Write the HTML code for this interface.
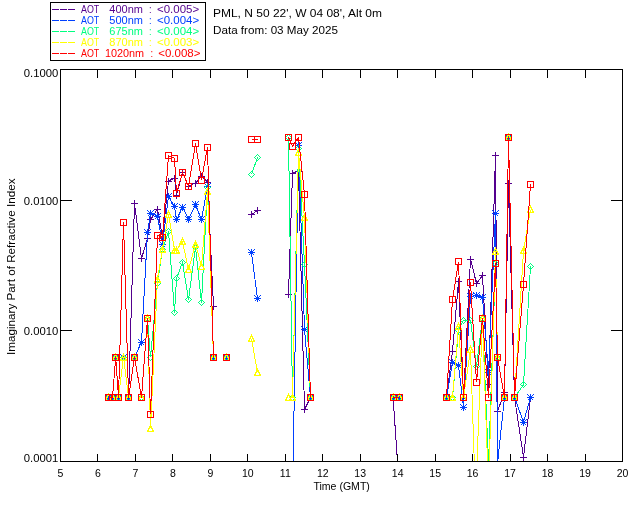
<!DOCTYPE html>
<html><head><meta charset="utf-8"><title>Imaginary Part of Refractive Index</title>
<style>
html,body{margin:0;padding:0;background:#fff;}
svg{display:block;font-family:"Liberation Sans",sans-serif;font-size:10.5px;fill:#000;}
.d path,.d polyline,.a path,.a rect,.l path,.l rect{fill:none;stroke-width:1;shape-rendering:crispEdges;}
.lg{font-size:11px;}
</style></head><body>
<svg width="640" height="512" viewBox="0 0 640 512">
<rect width="640" height="512" fill="#fff"/>
<defs><clipPath id="c"><rect x="60.5" y="69.5" width="562.0" height="392.0"/></clipPath></defs>
<g class="d" clip-path="url(#c)">
<polyline points="108.5,397.5 112.5,397.5 115.7,357.4 118.5,397.5 123.5,357.4 128.6,397.5 134.5,203.5 141.5,258.5 147.5,238.5 150.5,219.8 157.5,209.0 162.5,237.2 168.5,181.0 174.5,178.0 176.5,195.0 182.5,172.5 188.5,186.3 195.5,183.0 201.5,176.5 207.5,182.0 213.5,306.4" stroke="#54008e"/>
<path d="M105.0 397.5H112.0M108.5 394.0V401.0" stroke="#54008e"/>
<path d="M109.0 397.5H116.0M112.5 394.0V401.0" stroke="#54008e"/>
<path d="M112.0 357.5H119.0M115.5 354.0V361.0" stroke="#54008e"/>
<path d="M115.0 397.5H122.0M118.5 394.0V401.0" stroke="#54008e"/>
<path d="M120.0 357.5H127.0M123.5 354.0V361.0" stroke="#54008e"/>
<path d="M125.0 397.5H132.0M128.5 394.0V401.0" stroke="#54008e"/>
<path d="M131.0 203.5H138.0M134.5 200.0V207.0" stroke="#54008e"/>
<path d="M138.0 258.5H145.0M141.5 255.0V262.0" stroke="#54008e"/>
<path d="M144.0 238.5H151.0M147.5 235.0V242.0" stroke="#54008e"/>
<path d="M147.0 219.5H154.0M150.5 216.0V223.0" stroke="#54008e"/>
<path d="M154.0 209.5H161.0M157.5 206.0V213.0" stroke="#54008e"/>
<path d="M159.0 237.5H166.0M162.5 234.0V241.0" stroke="#54008e"/>
<path d="M165.0 181.5H172.0M168.5 178.0V185.0" stroke="#54008e"/>
<path d="M171.0 178.5H178.0M174.5 175.0V182.0" stroke="#54008e"/>
<path d="M173.0 195.5H180.0M176.5 192.0V199.0" stroke="#54008e"/>
<path d="M179.0 172.5H186.0M182.5 169.0V176.0" stroke="#54008e"/>
<path d="M185.0 186.5H192.0M188.5 183.0V190.0" stroke="#54008e"/>
<path d="M192.0 183.5H199.0M195.5 180.0V187.0" stroke="#54008e"/>
<path d="M198.0 176.5H205.0M201.5 173.0V180.0" stroke="#54008e"/>
<path d="M204.0 182.5H211.0M207.5 179.0V186.0" stroke="#54008e"/>
<path d="M210.0 306.5H217.0M213.5 303.0V310.0" stroke="#54008e"/>
<path d="M223.0 357.5H230.0M226.5 354.0V361.0" stroke="#54008e"/>
<polyline points="251.5,214.5 257.5,210.4" stroke="#54008e"/>
<path d="M248.0 214.5H255.0M251.5 211.0V218.0" stroke="#54008e"/>
<path d="M254.0 210.5H261.0M257.5 207.0V214.0" stroke="#54008e"/>
<polyline points="288.5,294.6 292.5,173.1 298.5,171.3 304.5,409.6 310.5,397.5" stroke="#54008e"/>
<path d="M285.0 294.5H292.0M288.5 291.0V298.0" stroke="#54008e"/>
<path d="M289.0 173.5H296.0M292.5 170.0V177.0" stroke="#54008e"/>
<path d="M295.0 171.5H302.0M298.5 168.0V175.0" stroke="#54008e"/>
<path d="M301.0 409.5H308.0M304.5 406.0V413.0" stroke="#54008e"/>
<path d="M307.0 397.5H314.0M310.5 394.0V401.0" stroke="#54008e"/>
<polyline points="393.1,397.5 399.0,484" stroke="#54008e"/>
<path d="M390.0 397.5H397.0M393.5 394.0V401.0" stroke="#54008e"/>
<polyline points="446.5,397.5 452.5,351.3 458.5,281.6 463.5,397.5 470.5,259.1 476.5,283.5 482.5,275.4 488.5,384.8 495.5,155.0 497.5,411.0 504.5,392.8 508.5,183.5 514.5,397.5 523.5,457.0 530.5,397.5" stroke="#54008e"/>
<path d="M443.0 397.5H450.0M446.5 394.0V401.0" stroke="#54008e"/>
<path d="M449.0 351.5H456.0M452.5 348.0V355.0" stroke="#54008e"/>
<path d="M455.0 281.5H462.0M458.5 278.0V285.0" stroke="#54008e"/>
<path d="M460.0 397.5H467.0M463.5 394.0V401.0" stroke="#54008e"/>
<path d="M467.0 259.5H474.0M470.5 256.0V263.0" stroke="#54008e"/>
<path d="M473.0 283.5H480.0M476.5 280.0V287.0" stroke="#54008e"/>
<path d="M479.0 275.5H486.0M482.5 272.0V279.0" stroke="#54008e"/>
<path d="M485.0 384.5H492.0M488.5 381.0V388.0" stroke="#54008e"/>
<path d="M492.0 155.5H499.0M495.5 152.0V159.0" stroke="#54008e"/>
<path d="M494.0 411.5H501.0M497.5 408.0V415.0" stroke="#54008e"/>
<path d="M501.0 392.5H508.0M504.5 389.0V396.0" stroke="#54008e"/>
<path d="M505.0 183.5H512.0M508.5 180.0V187.0" stroke="#54008e"/>
<path d="M511.0 397.5H518.0M514.5 394.0V401.0" stroke="#54008e"/>
<path d="M520.0 457.5H527.0M523.5 454.0V461.0" stroke="#54008e"/>
<path d="M527.0 397.5H534.0M530.5 394.0V401.0" stroke="#54008e"/>
<polyline points="108.5,397.5 112.5,397.5 115.7,357.4 118.5,397.5 123.5,357.4 128.6,397.5 134.5,357.4 141.5,342.0 147.5,232.3 150.5,213.3 157.5,216.0 162.5,244.0 168.5,196.6 174.5,206.6 176.5,219.8 182.5,207.3 188.5,219.1 195.5,204.8 201.5,219.8 207.5,186.5 213.5,357.5" stroke="#0040ff"/>
<path d="M105.0 397.5H112.0M108.5 394.0V401.0M105.5 394.5L111.5 400.5M105.5 400.5L111.5 394.5" stroke="#0040ff"/>
<path d="M109.0 397.5H116.0M112.5 394.0V401.0M109.5 394.5L115.5 400.5M109.5 400.5L115.5 394.5" stroke="#0040ff"/>
<path d="M112.0 357.5H119.0M115.5 354.0V361.0M112.5 354.5L118.5 360.5M112.5 360.5L118.5 354.5" stroke="#0040ff"/>
<path d="M115.0 397.5H122.0M118.5 394.0V401.0M115.5 394.5L121.5 400.5M115.5 400.5L121.5 394.5" stroke="#0040ff"/>
<path d="M120.0 357.5H127.0M123.5 354.0V361.0M120.5 354.5L126.5 360.5M120.5 360.5L126.5 354.5" stroke="#0040ff"/>
<path d="M125.0 397.5H132.0M128.5 394.0V401.0M125.5 394.5L131.5 400.5M125.5 400.5L131.5 394.5" stroke="#0040ff"/>
<path d="M131.0 357.5H138.0M134.5 354.0V361.0M131.5 354.5L137.5 360.5M131.5 360.5L137.5 354.5" stroke="#0040ff"/>
<path d="M138.0 342.5H145.0M141.5 339.0V346.0M138.5 339.5L144.5 345.5M138.5 345.5L144.5 339.5" stroke="#0040ff"/>
<path d="M144.0 232.5H151.0M147.5 229.0V236.0M144.5 229.5L150.5 235.5M144.5 235.5L150.5 229.5" stroke="#0040ff"/>
<path d="M147.0 213.5H154.0M150.5 210.0V217.0M147.5 210.5L153.5 216.5M147.5 216.5L153.5 210.5" stroke="#0040ff"/>
<path d="M154.0 216.5H161.0M157.5 213.0V220.0M154.5 213.5L160.5 219.5M154.5 219.5L160.5 213.5" stroke="#0040ff"/>
<path d="M159.0 244.5H166.0M162.5 241.0V248.0M159.5 241.5L165.5 247.5M159.5 247.5L165.5 241.5" stroke="#0040ff"/>
<path d="M165.0 196.5H172.0M168.5 193.0V200.0M165.5 193.5L171.5 199.5M165.5 199.5L171.5 193.5" stroke="#0040ff"/>
<path d="M171.0 206.5H178.0M174.5 203.0V210.0M171.5 203.5L177.5 209.5M171.5 209.5L177.5 203.5" stroke="#0040ff"/>
<path d="M173.0 219.5H180.0M176.5 216.0V223.0M173.5 216.5L179.5 222.5M173.5 222.5L179.5 216.5" stroke="#0040ff"/>
<path d="M179.0 207.5H186.0M182.5 204.0V211.0M179.5 204.5L185.5 210.5M179.5 210.5L185.5 204.5" stroke="#0040ff"/>
<path d="M185.0 219.5H192.0M188.5 216.0V223.0M185.5 216.5L191.5 222.5M185.5 222.5L191.5 216.5" stroke="#0040ff"/>
<path d="M192.0 204.5H199.0M195.5 201.0V208.0M192.5 201.5L198.5 207.5M192.5 207.5L198.5 201.5" stroke="#0040ff"/>
<path d="M198.0 219.5H205.0M201.5 216.0V223.0M198.5 216.5L204.5 222.5M198.5 222.5L204.5 216.5" stroke="#0040ff"/>
<path d="M204.0 186.5H211.0M207.5 183.0V190.0M204.5 183.5L210.5 189.5M204.5 189.5L210.5 183.5" stroke="#0040ff"/>
<path d="M210.0 357.5H217.0M213.5 354.0V361.0M210.5 354.5L216.5 360.5M210.5 360.5L216.5 354.5" stroke="#0040ff"/>
<path d="M223.0 357.5H230.0M226.5 354.0V361.0M223.5 354.5L229.5 360.5M223.5 360.5L229.5 354.5" stroke="#0040ff"/>
<polyline points="251.5,252.7 257.5,298.5" stroke="#0040ff"/>
<path d="M248.0 252.5H255.0M251.5 249.0V256.0M248.5 249.5L254.5 255.5M248.5 255.5L254.5 249.5" stroke="#0040ff"/>
<path d="M254.0 298.5H261.0M257.5 295.0V302.0M254.5 295.5L260.5 301.5M254.5 301.5L260.5 295.5" stroke="#0040ff"/>
<polyline points="292.5,500 298.5,145.1 304.5,329.5 310.5,397.5" stroke="#0040ff"/>
<path d="M295.0 145.5H302.0M298.5 142.0V149.0M295.5 142.5L301.5 148.5M295.5 148.5L301.5 142.5" stroke="#0040ff"/>
<path d="M301.0 329.5H308.0M304.5 326.0V333.0M301.5 326.5L307.5 332.5M301.5 332.5L307.5 326.5" stroke="#0040ff"/>
<path d="M307.0 397.5H314.0M310.5 394.0V401.0M307.5 394.5L313.5 400.5M307.5 400.5L313.5 394.5" stroke="#0040ff"/>
<polyline points="393.1,397.5 399.0,397.5" stroke="#0040ff"/>
<path d="M390.0 397.5H397.0M393.5 394.0V401.0M390.5 394.5L396.5 400.5M390.5 400.5L396.5 394.5" stroke="#0040ff"/>
<path d="M396.0 397.5H403.0M399.5 394.0V401.0M396.5 394.5L402.5 400.5M396.5 400.5L402.5 394.5" stroke="#0040ff"/>
<polyline points="446.5,397.5 452.5,362.0 458.5,365.4 463.5,407.0 470.5,296.6 476.5,295.4 482.5,297.3 488.5,372.3 495.5,213.4 497.5,463.5 504.5,397.5 508.5,137.4 514.5,397.5 523.5,422.0 530.5,397.5" stroke="#0040ff"/>
<path d="M443.0 397.5H450.0M446.5 394.0V401.0M443.5 394.5L449.5 400.5M443.5 400.5L449.5 394.5" stroke="#0040ff"/>
<path d="M449.0 362.5H456.0M452.5 359.0V366.0M449.5 359.5L455.5 365.5M449.5 365.5L455.5 359.5" stroke="#0040ff"/>
<path d="M455.0 365.5H462.0M458.5 362.0V369.0M455.5 362.5L461.5 368.5M455.5 368.5L461.5 362.5" stroke="#0040ff"/>
<path d="M460.0 407.5H467.0M463.5 404.0V411.0M460.5 404.5L466.5 410.5M460.5 410.5L466.5 404.5" stroke="#0040ff"/>
<path d="M467.0 296.5H474.0M470.5 293.0V300.0M467.5 293.5L473.5 299.5M467.5 299.5L473.5 293.5" stroke="#0040ff"/>
<path d="M473.0 295.5H480.0M476.5 292.0V299.0M473.5 292.5L479.5 298.5M473.5 298.5L479.5 292.5" stroke="#0040ff"/>
<path d="M479.0 297.5H486.0M482.5 294.0V301.0M479.5 294.5L485.5 300.5M479.5 300.5L485.5 294.5" stroke="#0040ff"/>
<path d="M485.0 372.5H492.0M488.5 369.0V376.0M485.5 369.5L491.5 375.5M485.5 375.5L491.5 369.5" stroke="#0040ff"/>
<path d="M492.0 213.5H499.0M495.5 210.0V217.0M492.5 210.5L498.5 216.5M492.5 216.5L498.5 210.5" stroke="#0040ff"/>
<path d="M501.0 397.5H508.0M504.5 394.0V401.0M501.5 394.5L507.5 400.5M501.5 400.5L507.5 394.5" stroke="#0040ff"/>
<path d="M505.0 137.5H512.0M508.5 134.0V141.0M505.5 134.5L511.5 140.5M505.5 140.5L511.5 134.5" stroke="#0040ff"/>
<path d="M511.0 397.5H518.0M514.5 394.0V401.0M511.5 394.5L517.5 400.5M511.5 400.5L517.5 394.5" stroke="#0040ff"/>
<path d="M520.0 422.5H527.0M523.5 419.0V426.0M520.5 419.5L526.5 425.5M520.5 425.5L526.5 419.5" stroke="#0040ff"/>
<path d="M527.0 397.5H534.0M530.5 394.0V401.0M527.5 394.5L533.5 400.5M527.5 400.5L533.5 394.5" stroke="#0040ff"/>
<polyline points="108.5,397.5 112.5,397.5 115.7,357.4 118.5,397.5 123.5,357.4 128.6,397.5 134.5,357.4 141.5,397.5 147.5,318.3 150.5,357.4 157.5,283.0 162.5,249.4 168.5,231.3 174.5,312.6 176.5,278.5 182.5,262.3 188.5,299.5 195.5,247.3 201.5,302.5 207.5,187.5 213.5,357.5" stroke="#00ff80"/>
<path d="M108.5 394.5L111.5 397.5L108.5 400.5L105.5 397.5Z" stroke="#00ff80"/>
<path d="M112.5 394.5L115.5 397.5L112.5 400.5L109.5 397.5Z" stroke="#00ff80"/>
<path d="M115.5 354.5L118.5 357.5L115.5 360.5L112.5 357.5Z" stroke="#00ff80"/>
<path d="M118.5 394.5L121.5 397.5L118.5 400.5L115.5 397.5Z" stroke="#00ff80"/>
<path d="M123.5 354.5L126.5 357.5L123.5 360.5L120.5 357.5Z" stroke="#00ff80"/>
<path d="M128.5 394.5L131.5 397.5L128.5 400.5L125.5 397.5Z" stroke="#00ff80"/>
<path d="M134.5 354.5L137.5 357.5L134.5 360.5L131.5 357.5Z" stroke="#00ff80"/>
<path d="M141.5 394.5L144.5 397.5L141.5 400.5L138.5 397.5Z" stroke="#00ff80"/>
<path d="M147.5 315.5L150.5 318.5L147.5 321.5L144.5 318.5Z" stroke="#00ff80"/>
<path d="M150.5 354.5L153.5 357.5L150.5 360.5L147.5 357.5Z" stroke="#00ff80"/>
<path d="M157.5 280.5L160.5 283.5L157.5 286.5L154.5 283.5Z" stroke="#00ff80"/>
<path d="M162.5 246.5L165.5 249.5L162.5 252.5L159.5 249.5Z" stroke="#00ff80"/>
<path d="M168.5 228.5L171.5 231.5L168.5 234.5L165.5 231.5Z" stroke="#00ff80"/>
<path d="M174.5 309.5L177.5 312.5L174.5 315.5L171.5 312.5Z" stroke="#00ff80"/>
<path d="M176.5 275.5L179.5 278.5L176.5 281.5L173.5 278.5Z" stroke="#00ff80"/>
<path d="M182.5 259.5L185.5 262.5L182.5 265.5L179.5 262.5Z" stroke="#00ff80"/>
<path d="M188.5 296.5L191.5 299.5L188.5 302.5L185.5 299.5Z" stroke="#00ff80"/>
<path d="M195.5 244.5L198.5 247.5L195.5 250.5L192.5 247.5Z" stroke="#00ff80"/>
<path d="M201.5 299.5L204.5 302.5L201.5 305.5L198.5 302.5Z" stroke="#00ff80"/>
<path d="M207.5 184.5L210.5 187.5L207.5 190.5L204.5 187.5Z" stroke="#00ff80"/>
<path d="M213.5 354.5L216.5 357.5L213.5 360.5L210.5 357.5Z" stroke="#00ff80"/>
<path d="M226.5 354.5L229.5 357.5L226.5 360.5L223.5 357.5Z" stroke="#00ff80"/>
<polyline points="251.5,174.4 257.5,157.5" stroke="#00ff80"/>
<path d="M251.5 171.5L254.5 174.5L251.5 177.5L248.5 174.5Z" stroke="#00ff80"/>
<path d="M257.5 154.5L260.5 157.5L257.5 160.5L254.5 157.5Z" stroke="#00ff80"/>
<polyline points="288.5,137.5 292.5,397.5 298.5,148.0 304.5,264.5 310.5,397.5" stroke="#00ff80"/>
<path d="M288.5 134.5L291.5 137.5L288.5 140.5L285.5 137.5Z" stroke="#00ff80"/>
<path d="M292.5 394.5L295.5 397.5L292.5 400.5L289.5 397.5Z" stroke="#00ff80"/>
<path d="M298.5 145.5L301.5 148.5L298.5 151.5L295.5 148.5Z" stroke="#00ff80"/>
<path d="M304.5 261.5L307.5 264.5L304.5 267.5L301.5 264.5Z" stroke="#00ff80"/>
<path d="M310.5 394.5L313.5 397.5L310.5 400.5L307.5 397.5Z" stroke="#00ff80"/>
<polyline points="393.1,397.5 399.0,397.5" stroke="#00ff80"/>
<path d="M393.5 394.5L396.5 397.5L393.5 400.5L390.5 397.5Z" stroke="#00ff80"/>
<path d="M399.5 394.5L402.5 397.5L399.5 400.5L396.5 397.5Z" stroke="#00ff80"/>
<polyline points="446.5,397.5 452.5,397.5 458.5,330.0 463.5,320.4 470.5,320.4 476.5,366.6 482.5,318.2 488.5,464 495.5,263.3 497.5,357.5 504.5,397.5 508.5,137.4 514.5,397.5 523.5,384.8 530.5,266.3" stroke="#00ff80"/>
<path d="M446.5 394.5L449.5 397.5L446.5 400.5L443.5 397.5Z" stroke="#00ff80"/>
<path d="M452.5 394.5L455.5 397.5L452.5 400.5L449.5 397.5Z" stroke="#00ff80"/>
<path d="M458.5 327.5L461.5 330.5L458.5 333.5L455.5 330.5Z" stroke="#00ff80"/>
<path d="M463.5 317.5L466.5 320.5L463.5 323.5L460.5 320.5Z" stroke="#00ff80"/>
<path d="M470.5 317.5L473.5 320.5L470.5 323.5L467.5 320.5Z" stroke="#00ff80"/>
<path d="M476.5 363.5L479.5 366.5L476.5 369.5L473.5 366.5Z" stroke="#00ff80"/>
<path d="M482.5 315.5L485.5 318.5L482.5 321.5L479.5 318.5Z" stroke="#00ff80"/>
<path d="M495.5 260.5L498.5 263.5L495.5 266.5L492.5 263.5Z" stroke="#00ff80"/>
<path d="M497.5 354.5L500.5 357.5L497.5 360.5L494.5 357.5Z" stroke="#00ff80"/>
<path d="M504.5 394.5L507.5 397.5L504.5 400.5L501.5 397.5Z" stroke="#00ff80"/>
<path d="M508.5 134.5L511.5 137.5L508.5 140.5L505.5 137.5Z" stroke="#00ff80"/>
<path d="M514.5 394.5L517.5 397.5L514.5 400.5L511.5 397.5Z" stroke="#00ff80"/>
<path d="M523.5 381.5L526.5 384.5L523.5 387.5L520.5 384.5Z" stroke="#00ff80"/>
<path d="M530.5 263.5L533.5 266.5L530.5 269.5L527.5 266.5Z" stroke="#00ff80"/>
<polyline points="108.5,397.5 112.5,397.5 115.7,357.4 118.5,397.5 123.5,357.4 128.6,397.5 134.5,357.4 141.5,397.5 147.5,318.3 150.5,428.4 157.5,279.0 162.5,249.4 168.5,214.0 174.5,250.0 176.5,250.0 182.5,241.6 188.5,269.8 195.5,244.1 201.5,266.0 207.5,191.0 213.5,357.5" stroke="#ffff00"/>
<path d="M105.5 400.5H111.5L108.5 394.5Z" stroke="#ffff00"/>
<path d="M109.5 400.5H115.5L112.5 394.5Z" stroke="#ffff00"/>
<path d="M112.5 360.5H118.5L115.5 354.5Z" stroke="#ffff00"/>
<path d="M115.5 400.5H121.5L118.5 394.5Z" stroke="#ffff00"/>
<path d="M120.5 360.5H126.5L123.5 354.5Z" stroke="#ffff00"/>
<path d="M125.5 400.5H131.5L128.5 394.5Z" stroke="#ffff00"/>
<path d="M131.5 360.5H137.5L134.5 354.5Z" stroke="#ffff00"/>
<path d="M138.5 400.5H144.5L141.5 394.5Z" stroke="#ffff00"/>
<path d="M144.5 321.5H150.5L147.5 315.5Z" stroke="#ffff00"/>
<path d="M147.5 431.5H153.5L150.5 425.5Z" stroke="#ffff00"/>
<path d="M154.5 282.5H160.5L157.5 276.5Z" stroke="#ffff00"/>
<path d="M159.5 252.5H165.5L162.5 246.5Z" stroke="#ffff00"/>
<path d="M165.5 217.5H171.5L168.5 211.5Z" stroke="#ffff00"/>
<path d="M171.5 253.5H177.5L174.5 247.5Z" stroke="#ffff00"/>
<path d="M173.5 253.5H179.5L176.5 247.5Z" stroke="#ffff00"/>
<path d="M179.5 244.5H185.5L182.5 238.5Z" stroke="#ffff00"/>
<path d="M185.5 272.5H191.5L188.5 266.5Z" stroke="#ffff00"/>
<path d="M192.5 247.5H198.5L195.5 241.5Z" stroke="#ffff00"/>
<path d="M198.5 269.5H204.5L201.5 263.5Z" stroke="#ffff00"/>
<path d="M204.5 194.5H210.5L207.5 188.5Z" stroke="#ffff00"/>
<path d="M210.5 360.5H216.5L213.5 354.5Z" stroke="#ffff00"/>
<path d="M223.5 360.5H229.5L226.5 354.5Z" stroke="#ffff00"/>
<polyline points="251.5,338.8 257.5,372.5" stroke="#ffff00"/>
<path d="M248.5 341.5H254.5L251.5 335.5Z" stroke="#ffff00"/>
<path d="M254.5 375.5H260.5L257.5 369.5Z" stroke="#ffff00"/>
<polyline points="288.5,397.5 292.5,397.5 298.5,152.2 304.5,217.9 310.5,397.5" stroke="#ffff00"/>
<path d="M285.5 400.5H291.5L288.5 394.5Z" stroke="#ffff00"/>
<path d="M289.5 400.5H295.5L292.5 394.5Z" stroke="#ffff00"/>
<path d="M295.5 155.5H301.5L298.5 149.5Z" stroke="#ffff00"/>
<path d="M301.5 220.5H307.5L304.5 214.5Z" stroke="#ffff00"/>
<path d="M307.5 400.5H313.5L310.5 394.5Z" stroke="#ffff00"/>
<polyline points="393.1,397.5 399.0,397.5" stroke="#ffff00"/>
<path d="M390.5 400.5H396.5L393.5 394.5Z" stroke="#ffff00"/>
<path d="M396.5 400.5H402.5L399.5 394.5Z" stroke="#ffff00"/>
<polyline points="446.5,397.5 452.5,397.5 458.5,326.2 463.5,397.5 470.5,349.8 475.6,500 482.5,318.2 488.5,491 495.5,251.3 497.5,357.5 504.5,397.5 508.5,137.4 514.5,397.5 523.5,250.8 530.5,209.6" stroke="#ffff00"/>
<path d="M443.5 400.5H449.5L446.5 394.5Z" stroke="#ffff00"/>
<path d="M449.5 400.5H455.5L452.5 394.5Z" stroke="#ffff00"/>
<path d="M455.5 329.5H461.5L458.5 323.5Z" stroke="#ffff00"/>
<path d="M460.5 400.5H466.5L463.5 394.5Z" stroke="#ffff00"/>
<path d="M467.5 352.5H473.5L470.5 346.5Z" stroke="#ffff00"/>
<path d="M479.5 321.5H485.5L482.5 315.5Z" stroke="#ffff00"/>
<path d="M492.5 254.5H498.5L495.5 248.5Z" stroke="#ffff00"/>
<path d="M494.5 360.5H500.5L497.5 354.5Z" stroke="#ffff00"/>
<path d="M501.5 400.5H507.5L504.5 394.5Z" stroke="#ffff00"/>
<path d="M505.5 140.5H511.5L508.5 134.5Z" stroke="#ffff00"/>
<path d="M511.5 400.5H517.5L514.5 394.5Z" stroke="#ffff00"/>
<path d="M520.5 253.5H526.5L523.5 247.5Z" stroke="#ffff00"/>
<path d="M527.5 212.5H533.5L530.5 206.5Z" stroke="#ffff00"/>
<polyline points="108.5,397.5 112.5,397.5 115.7,357.4 118.5,397.5 123.5,222.5 128.6,397.5 134.5,357.4 141.5,397.5 147.5,318.3 150.5,414.2 157.5,235.5 162.5,237.2 168.5,155.6 174.5,158.4 176.5,193.0 182.5,172.5 188.5,186.3 195.5,143.5 201.5,180.0 207.5,147.3 213.5,357.5" stroke="#ff0000"/>
<path d="M105.5 394.5H111.5V400.5H105.5Z" stroke="#ff0000"/>
<path d="M109.5 394.5H115.5V400.5H109.5Z" stroke="#ff0000"/>
<path d="M112.5 354.5H118.5V360.5H112.5Z" stroke="#ff0000"/>
<path d="M115.5 394.5H121.5V400.5H115.5Z" stroke="#ff0000"/>
<path d="M120.5 219.5H126.5V225.5H120.5Z" stroke="#ff0000"/>
<path d="M125.5 394.5H131.5V400.5H125.5Z" stroke="#ff0000"/>
<path d="M131.5 354.5H137.5V360.5H131.5Z" stroke="#ff0000"/>
<path d="M138.5 394.5H144.5V400.5H138.5Z" stroke="#ff0000"/>
<path d="M144.5 315.5H150.5V321.5H144.5Z" stroke="#ff0000"/>
<path d="M147.5 411.5H153.5V417.5H147.5Z" stroke="#ff0000"/>
<path d="M154.5 232.5H160.5V238.5H154.5Z" stroke="#ff0000"/>
<path d="M159.5 234.5H165.5V240.5H159.5Z" stroke="#ff0000"/>
<path d="M165.5 152.5H171.5V158.5H165.5Z" stroke="#ff0000"/>
<path d="M171.5 155.5H177.5V161.5H171.5Z" stroke="#ff0000"/>
<path d="M173.5 190.5H179.5V196.5H173.5Z" stroke="#ff0000"/>
<path d="M179.5 169.5H185.5V175.5H179.5Z" stroke="#ff0000"/>
<path d="M185.5 183.5H191.5V189.5H185.5Z" stroke="#ff0000"/>
<path d="M192.5 140.5H198.5V146.5H192.5Z" stroke="#ff0000"/>
<path d="M198.5 177.5H204.5V183.5H198.5Z" stroke="#ff0000"/>
<path d="M204.5 144.5H210.5V150.5H204.5Z" stroke="#ff0000"/>
<path d="M210.5 354.5H216.5V360.5H210.5Z" stroke="#ff0000"/>
<path d="M223.5 354.5H229.5V360.5H223.5Z" stroke="#ff0000"/>
<polyline points="251.5,139.5 257.5,139.5" stroke="#ff0000"/>
<path d="M248.5 136.5H254.5V142.5H248.5Z" stroke="#ff0000"/>
<path d="M254.5 136.5H260.5V142.5H254.5Z" stroke="#ff0000"/>
<polyline points="288.5,137.5 292.5,146.2 298.5,137.5 304.5,194.4 310.5,397.5" stroke="#ff0000"/>
<path d="M285.5 134.5H291.5V140.5H285.5Z" stroke="#ff0000"/>
<path d="M289.5 143.5H295.5V149.5H289.5Z" stroke="#ff0000"/>
<path d="M295.5 134.5H301.5V140.5H295.5Z" stroke="#ff0000"/>
<path d="M301.5 191.5H307.5V197.5H301.5Z" stroke="#ff0000"/>
<path d="M307.5 394.5H313.5V400.5H307.5Z" stroke="#ff0000"/>
<polyline points="393.1,397.5 399.0,397.5" stroke="#ff0000"/>
<path d="M390.5 394.5H396.5V400.5H390.5Z" stroke="#ff0000"/>
<path d="M396.5 394.5H402.5V400.5H396.5Z" stroke="#ff0000"/>
<polyline points="446.5,397.5 452.5,299.5 458.5,261.6 463.5,397.5 470.5,282.3 476.5,382.3 482.5,318.2 488.5,397.5 495.5,263.3 497.5,357.5 504.5,397.5 508.5,137.4 514.5,397.5 523.5,284.5 530.5,184.5" stroke="#ff0000"/>
<path d="M443.5 394.5H449.5V400.5H443.5Z" stroke="#ff0000"/>
<path d="M449.5 296.5H455.5V302.5H449.5Z" stroke="#ff0000"/>
<path d="M455.5 258.5H461.5V264.5H455.5Z" stroke="#ff0000"/>
<path d="M460.5 394.5H466.5V400.5H460.5Z" stroke="#ff0000"/>
<path d="M467.5 279.5H473.5V285.5H467.5Z" stroke="#ff0000"/>
<path d="M473.5 379.5H479.5V385.5H473.5Z" stroke="#ff0000"/>
<path d="M479.5 315.5H485.5V321.5H479.5Z" stroke="#ff0000"/>
<path d="M485.5 394.5H491.5V400.5H485.5Z" stroke="#ff0000"/>
<path d="M492.5 260.5H498.5V266.5H492.5Z" stroke="#ff0000"/>
<path d="M494.5 354.5H500.5V360.5H494.5Z" stroke="#ff0000"/>
<path d="M501.5 394.5H507.5V400.5H501.5Z" stroke="#ff0000"/>
<path d="M505.5 134.5H511.5V140.5H505.5Z" stroke="#ff0000"/>
<path d="M511.5 394.5H517.5V400.5H511.5Z" stroke="#ff0000"/>
<path d="M520.5 281.5H526.5V287.5H520.5Z" stroke="#ff0000"/>
<path d="M527.5 181.5H533.5V187.5H527.5Z" stroke="#ff0000"/>
</g>
<g class="a">
<rect x="60.5" y="69.5" width="562.0" height="392.0" fill="none" stroke="#000"/>
<path d="M97.5 69.5v8M97.5 461.5v-8M135.5 69.5v8M135.5 461.5v-8M172.5 69.5v8M172.5 461.5v-8M210.5 69.5v8M210.5 461.5v-8M247.5 69.5v8M247.5 461.5v-8M285.5 69.5v8M285.5 461.5v-8M322.5 69.5v8M322.5 461.5v-8M360.5 69.5v8M360.5 461.5v-8M397.5 69.5v8M397.5 461.5v-8M435.5 69.5v8M435.5 461.5v-8M472.5 69.5v8M472.5 461.5v-8M510.5 69.5v8M510.5 461.5v-8M547.5 69.5v8M547.5 461.5v-8M585.5 69.5v8M585.5 461.5v-8M60.5 200.5h11.5M622.5 200.5h-11.5M60.5 330.5h11.5M622.5 330.5h-11.5" stroke="#000"/>
</g>
<g class="l">
<rect x="50.5" y="2.5" width="155" height="58" stroke="#000"/>
<path d="M52 9.5h7m1 0h7m1 0h7" stroke="#54008e"/>
<text x="81" y="13.0" textLength="18.3" lengthAdjust="spacingAndGlyphs" fill="#54008e" class="lg">AOT</text>
<text x="109.3" y="13.0" textLength="33.6" lengthAdjust="spacingAndGlyphs" fill="#54008e" class="lg">400nm</text>
<text x="149" y="13.0" textLength="2.6" lengthAdjust="spacingAndGlyphs" fill="#54008e" class="lg">:</text>
<text x="157.0" y="13.0" textLength="42.2" lengthAdjust="spacingAndGlyphs" fill="#54008e" class="lg">&lt;0.005&gt;</text>
<path d="M52 20.5h7m1 0h7m1 0h7" stroke="#0040ff"/>
<text x="81" y="23.9" textLength="18.3" lengthAdjust="spacingAndGlyphs" fill="#0040ff" class="lg">AOT</text>
<text x="109.3" y="23.9" textLength="33.6" lengthAdjust="spacingAndGlyphs" fill="#0040ff" class="lg">500nm</text>
<text x="149" y="23.9" textLength="2.6" lengthAdjust="spacingAndGlyphs" fill="#0040ff" class="lg">:</text>
<text x="157.0" y="23.9" textLength="42.2" lengthAdjust="spacingAndGlyphs" fill="#0040ff" class="lg">&lt;0.004&gt;</text>
<path d="M52 31.5h7m1 0h7m1 0h7" stroke="#00ff80"/>
<text x="81" y="34.9" textLength="18.3" lengthAdjust="spacingAndGlyphs" fill="#00ff80" class="lg">AOT</text>
<text x="109.3" y="34.9" textLength="33.6" lengthAdjust="spacingAndGlyphs" fill="#00ff80" class="lg">675nm</text>
<text x="149" y="34.9" textLength="2.6" lengthAdjust="spacingAndGlyphs" fill="#00ff80" class="lg">:</text>
<text x="157.0" y="34.9" textLength="42.2" lengthAdjust="spacingAndGlyphs" fill="#00ff80" class="lg">&lt;0.004&gt;</text>
<path d="M52 42.5h7m1 0h7m1 0h7" stroke="#ffff00"/>
<text x="81" y="45.8" textLength="18.3" lengthAdjust="spacingAndGlyphs" fill="#ffff00" class="lg">AOT</text>
<text x="109.3" y="45.8" textLength="33.6" lengthAdjust="spacingAndGlyphs" fill="#ffff00" class="lg">870nm</text>
<text x="149" y="45.8" textLength="2.6" lengthAdjust="spacingAndGlyphs" fill="#ffff00" class="lg">:</text>
<text x="157.0" y="45.8" textLength="42.2" lengthAdjust="spacingAndGlyphs" fill="#ffff00" class="lg">&lt;0.003&gt;</text>
<path d="M52 53.5h7m1 0h7m1 0h7" stroke="#ff0000"/>
<text x="81" y="56.8" textLength="18.3" lengthAdjust="spacingAndGlyphs" fill="#ff0000" class="lg">AOT</text>
<text x="104.9" y="56.8" textLength="39.2" lengthAdjust="spacingAndGlyphs" fill="#ff0000" class="lg">1020nm</text>
<text x="150.6" y="56.8" textLength="2.6" lengthAdjust="spacingAndGlyphs" fill="#ff0000" class="lg">:</text>
<text x="158.28" y="56.8" textLength="42.2" lengthAdjust="spacingAndGlyphs" fill="#ff0000" class="lg">&lt;0.008&gt;</text>
</g>
<g class="t">
<text x="213" y="17.2" textLength="169" lengthAdjust="spacingAndGlyphs">PML, N 50 22', W 04 08', Alt 0m</text>
<text x="213" y="33.8" textLength="125" lengthAdjust="spacingAndGlyphs">Data from: 03 May 2025</text>
<text x="313.4" y="489.5" textLength="56.5" lengthAdjust="spacingAndGlyphs">Time (GMT)</text>
<text transform="translate(15 355) rotate(-90)" textLength="176.5" lengthAdjust="spacingAndGlyphs">Imaginary Part of Refractive Index</text>
</g>
<g class="x">
<text x="60.5" y="477" text-anchor="middle">5</text>
<text x="98.0" y="477" text-anchor="middle">6</text>
<text x="135.4" y="477" text-anchor="middle">7</text>
<text x="172.9" y="477" text-anchor="middle">8</text>
<text x="210.4" y="477" text-anchor="middle">9</text>
<text x="247.8" y="477" text-anchor="middle">10</text>
<text x="285.3" y="477" text-anchor="middle">11</text>
<text x="322.8" y="477" text-anchor="middle">12</text>
<text x="360.2" y="477" text-anchor="middle">13</text>
<text x="397.7" y="477" text-anchor="middle">14</text>
<text x="435.2" y="477" text-anchor="middle">15</text>
<text x="472.6" y="477" text-anchor="middle">16</text>
<text x="510.1" y="477" text-anchor="middle">17</text>
<text x="547.6" y="477" text-anchor="middle">18</text>
<text x="585.0" y="477" text-anchor="middle">19</text>
<text x="622.5" y="477" text-anchor="middle">20</text>
<text x="23.8" y="77.0" textLength="34.6" lengthAdjust="spacingAndGlyphs">0.1000</text>
<text x="23.8" y="204.5" textLength="34.6" lengthAdjust="spacingAndGlyphs">0.0100</text>
<text x="23.8" y="335.0" textLength="34.6" lengthAdjust="spacingAndGlyphs">0.0010</text>
<text x="23.8" y="462.0" textLength="34.6" lengthAdjust="spacingAndGlyphs">0.0001</text>
</g>
</svg>
</body></html>
